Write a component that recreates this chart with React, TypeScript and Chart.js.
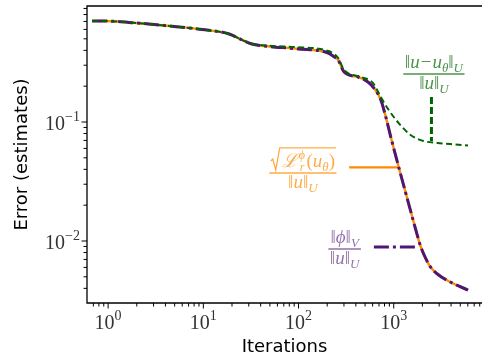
import React, { useEffect, useRef } from 'react';
import { Chart, registerables } from 'chart.js';

Chart.register(...registerables);

// ---------- data ----------
const iterMain = [0.68, 0.89, 1.96, 4.4, 9.7, 18.7, 25.5, 32.4, 44, 100, 205, 240, 261, 301, 422, 536, 619, 732, 826, 931, 1127, 1400, 1695, 1910, 2154, 2429, 2871, 3923, 6030];
const errResidual = [0.706, 0.706, 0.68, 0.641, 0.599, 0.549, 0.489, 0.452, 0.435, 0.411, 0.38, 0.35, 0.332, 0.263, 0.239, 0.217, 0.193, 0.153, 0.11, 0.0748, 0.0419, 0.0221, 0.01262, 0.00908, 0.0072, 0.00605, 0.00528, 0.00452, 0.00387];
const errPhi = [0.706, 0.706, 0.68, 0.641, 0.599, 0.549, 0.489, 0.452, 0.435, 0.411, 0.38, 0.35, 0.332, 0.263, 0.239, 0.217, 0.193, 0.153, 0.11, 0.0748, 0.0419, 0.0221, 0.01262, 0.00908, 0.0072, 0.00605, 0.00528, 0.00452, 0.00387];
const iterTrue = [0.68, 0.89, 1.96, 4.4, 9.7, 18.7, 25.5, 32.4, 44, 100, 205, 261, 301, 453, 604, 732, 887, 1127, 1504, 2053, 2871, 3923, 6030];
const errTrue = [0.706, 0.706, 0.68, 0.641, 0.599, 0.549, 0.489, 0.455, 0.44, 0.425, 0.395, 0.345, 0.274, 0.239, 0.213, 0.162, 0.126, 0.098, 0.0778, 0.0692, 0.0667, 0.0653, 0.0635];

// leader lines from labels to curves
const leaderResidualX = [340, 1127];
const leaderResidualY = [0.0415, 0.0415];
const leaderPhiX = [619, 1778];
const leaderPhiY = [0.00891, 0.00891];
const leaderTrueX = [2489, 2489];
const leaderTrueY = [0.162, 0.0692];

// label anchors (centre x, fraction-bar y) in data units
const labelTrue = [2642, 0.253];
const labelResidual = [111, 0.0373];
const labelPhi = [305, 0.00857];

const xMajorTicks = [1, 10, 100, 1000];
const yMajorTicks = [0.01, 0.1];
const xTickExp = ['0', '1', '2', '3'];
const yTickExp = ['\u22122', '\u22121'];

const X_MIN = 0.6494;
const X_MAX = 8453;
const Y_MIN = 0.003013;
const Y_MAX = 0.9437;

const ORANGE = '#ff8c00';
const PURPLE = '#4e1773';
const GREEN = '#006400';
const ORANGE_TXT = 'rgba(255,140,0,0.72)';
const PURPLE_TXT = 'rgba(78,23,115,0.62)';
const GREEN_TXT = 'rgba(0,100,0,0.7)';

const SERIF = '"Liberation Serif", "DejaVu Serif", serif';
const SANS = '"DejaVu Sans", sans-serif';

const pts = (xs: number[], ys: number[]) => xs.map((x, i) => ({ x, y: ys[i] }));

type Run = { t: string; s: number; i?: boolean; dy?: number; dx?: number; noAdv?: boolean };

function fnt(s: number, i?: boolean) {
  return `${i ? 'italic ' : ''}${s}px ${SERIF}`;
}
function measureRuns(ctx: CanvasRenderingContext2D, runs: Run[]) {
  let w = 0;
  for (const r of runs) {
    ctx.font = fnt(r.s, r.i);
    w += r.dx || 0;
    if (!r.noAdv) w += ctx.measureText(r.t).width;
  }
  return w;
}
function drawRuns(ctx: CanvasRenderingContext2D, runs: Run[], x: number, y: number) {
  let cx = x;
  for (const r of runs) {
    ctx.font = fnt(r.s, r.i);
    cx += r.dx || 0;
    ctx.fillText(r.t, cx, y + (r.dy || 0));
    if (!r.noAdv) cx += ctx.measureText(r.t).width;
  }
}

const M = 19;
const S = 13;
const normU: Run[] = [
  { t: '\u2016', s: M },
  { t: 'u', s: M, i: true },
  { t: '\u2016', s: M },
  { t: 'U', s: S, i: true, dy: 4 },
];
const numTrue: Run[] = [
  { t: '\u2016', s: M },
  { t: 'u', s: M, i: true },
  { t: '\u2212', s: M, dx: 1 },
  { t: 'u', s: M, i: true, dx: 1 },
  { t: '\u03b8', s: S, i: true, dy: 4 },
  { t: '\u2016', s: M },
  { t: 'U', s: S, i: true, dy: 4 },
];
const numPhi: Run[] = [
  { t: '\u2016', s: M },
  { t: '\u03d5', s: M, i: true },
  { t: '\u2016', s: M },
  { t: 'V', s: S, i: true, dy: 4 },
];
const numResidual: Run[] = [
  { t: '\u2112', s: M, i: true },
  { t: '\u03d5', s: 12, i: true, dy: -8, dx: 1, noAdv: true },
  { t: 'r', s: 12, i: true, dy: 4, dx: 1 },
  { t: '(', s: M, dx: 2 },
  { t: 'u', s: M, i: true },
  { t: '\u03b8', s: S, i: true, dy: 4 },
  { t: ')', s: M },
];

function drawFraction(
  ctx: CanvasRenderingContext2D,
  num: Run[],
  den: Run[],
  cx: number,
  barY: number,
  color: string,
  radical: boolean,
) {
  ctx.fillStyle = color;
  ctx.strokeStyle = color;
  const nw = measureRuns(ctx, num);
  const dw = measureRuns(ctx, den);
  const radW = radical ? 11 : 0;
  const topW = nw + radW;
  const W = Math.max(topW, dw) + 3;
  const nb = barY - 6;
  const nx = cx - topW / 2 + radW;
  drawRuns(ctx, num, nx, nb);
  drawRuns(ctx, den, cx - dw / 2, barY + 15);
  ctx.lineWidth = 1.6;
  ctx.beginPath();
  ctx.moveTo(cx - W / 2, barY);
  ctx.lineTo(cx + W / 2, barY);
  ctx.stroke();
  if (radical) {
    ctx.lineWidth = 1.3;
    ctx.beginPath();
    ctx.moveTo(nx - 11, nb - 6);
    ctx.lineTo(nx - 9, nb - 8);
    ctx.lineTo(nx - 6, nb + 3);
    ctx.lineTo(nx - 2, nb - 19);
    ctx.lineTo(nx + nw + 1, nb - 19);
    ctx.stroke();
  }
}

const overlay = {
  id: 'overlay',
  afterDraw(chart: any) {
    const { ctx, chartArea: a, scales } = chart;
    const xs = scales.x;
    const ys = scales.y;
    ctx.save();
    // spines
    ctx.strokeStyle = '#000';
    ctx.lineWidth = 1.3;
    ctx.beginPath();
    ctx.moveTo(a.right, a.top);
    ctx.lineTo(a.left, a.top);
    ctx.lineTo(a.left, a.bottom);
    ctx.lineTo(a.right, a.bottom);
    ctx.stroke();
    // ticks
    ctx.lineWidth = 1;
    ctx.beginPath();
    for (let e = -1; e <= 4; e++) {
      for (let m = 1; m <= 9; m++) {
        const v = m * Math.pow(10, e);
        if (v < X_MIN || v > X_MAX) continue;
        const px = xs.getPixelForValue(v);
        const len = m === 1 ? 5.5 : 3.5;
        ctx.moveTo(px, a.bottom);
        ctx.lineTo(px, a.bottom + len);
      }
    }
    for (let e = -3; e <= 0; e++) {
      for (let m = 1; m <= 9; m++) {
        const v = m * Math.pow(10, e);
        if (v < Y_MIN || v > Y_MAX) continue;
        const py = ys.getPixelForValue(v);
        const len = m === 1 ? 5.5 : 3.5;
        ctx.moveTo(a.left, py);
        ctx.lineTo(a.left - len, py);
      }
    }
    ctx.stroke();
    // tick labels
    ctx.fillStyle = '#333';
    ctx.textBaseline = 'alphabetic';
    ctx.textAlign = 'left';
    xMajorTicks.forEach((v, i) => {
      const runs: Run[] = [
        { t: '10', s: 20 },
        { t: xTickExp[i], s: 14, dy: -9 },
      ];
      const w = measureRuns(ctx, runs);
      drawRuns(ctx, runs, xs.getPixelForValue(v) - w / 2, a.bottom + 26);
    });
    yMajorTicks.forEach((v, i) => {
      const runs: Run[] = [
        { t: '10', s: 20 },
        { t: yTickExp[i], s: 14, dy: -9 },
      ];
      const w = measureRuns(ctx, runs);
      drawRuns(ctx, runs, a.left - 7 - w, ys.getPixelForValue(v) + 8);
    });
    // axis titles
    ctx.fillStyle = '#000';
    ctx.font = `18px ${SANS}`;
    ctx.textAlign = 'center';
    ctx.fillText('Iterations', (a.left + a.right) / 2, 352);
    ctx.save();
    ctx.translate(22, (a.top + a.bottom) / 2);
    ctx.rotate(-Math.PI / 2);
    ctx.textBaseline = 'middle';
    ctx.fillText('Error (estimates)', 0, 0);
    ctx.restore();
    ctx.textAlign = 'left';
    ctx.textBaseline = 'alphabetic';
    // annotation labels
    drawFraction(ctx, numTrue, normU, xs.getPixelForValue(labelTrue[0]), ys.getPixelForValue(labelTrue[1]), GREEN_TXT, false);
    drawFraction(ctx, numResidual, normU, xs.getPixelForValue(labelResidual[0]), ys.getPixelForValue(labelResidual[1]), ORANGE_TXT, true);
    drawFraction(ctx, numPhi, normU, xs.getPixelForValue(labelPhi[0]), ys.getPixelForValue(labelPhi[1]), PURPLE_TXT, false);
    ctx.restore();
  },
};

export default function App() {
  const ref = useRef<HTMLCanvasElement>(null);
  useEffect(() => {
    if (!ref.current) return;
    const chart = new Chart(ref.current, {
      type: 'line',
      data: {
        datasets: [
          {
            data: pts(iterTrue, errTrue),
            borderColor: GREEN,
            borderWidth: 2,
            borderDash: [6, 3.5],
            cubicInterpolationMode: 'monotone',
            order: 0,
          },
          {
            data: pts(leaderTrueX, leaderTrueY),
            borderColor: GREEN,
            borderWidth: 3,
            borderDash: [7, 3],
            order: 0,
          },
          {
            data: pts(iterMain, errPhi),
            borderColor: PURPLE,
            borderWidth: 3,
            borderDash: [15, 4, 3, 4],
            cubicInterpolationMode: 'monotone',
            order: 1,
          },
          {
            data: pts(leaderPhiX, leaderPhiY),
            borderColor: PURPLE,
            borderWidth: 3,
            borderDash: [15, 4, 3, 4],
            order: 1,
          },
          {
            data: pts(iterMain, errResidual),
            borderColor: ORANGE,
            borderWidth: 2.4,
            cubicInterpolationMode: 'monotone',
            order: 2,
          },
          {
            data: pts(leaderResidualX, leaderResidualY),
            borderColor: ORANGE,
            borderWidth: 2.2,
            order: 2,
          },
        ],
      },
      options: {
        animation: false,
        responsive: true,
        maintainAspectRatio: false,
        layout: { padding: { left: 87, top: 6, right: 0, bottom: 54 } },
        plugins: { legend: { display: false }, tooltip: { enabled: false } },
        elements: { point: { radius: 0 } },
        scales: {
          x: { type: 'logarithmic', min: X_MIN, max: X_MAX, display: false },
          y: { type: 'logarithmic', min: Y_MIN, max: Y_MAX, display: false },
        },
      },
      plugins: [overlay],
    } as any);
    return () => chart.destroy();
  }, []);
  return (
    <div style={{ position: 'fixed', left: 0, top: 0, width: 482, height: 357, background: '#fff' }}>
      <canvas ref={ref} />
    </div>
  );
}
